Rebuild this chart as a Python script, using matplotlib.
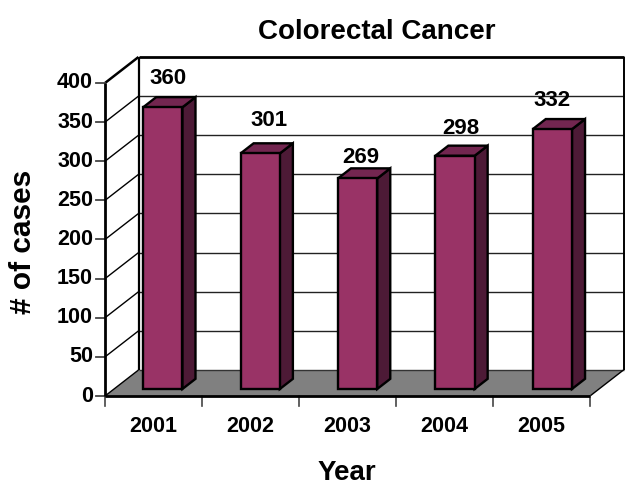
"""Colorectal cancer cases per year, as a pseudo-3D column chart."""

import matplotlib

matplotlib.use("Agg")
import matplotlib.pyplot as plt
from matplotlib.patches import Polygon

plt.rcParams["font.family"] = ["Liberation Sans", "DejaVu Sans"]

years = ["2001", "2002", "2003", "2004", "2005"]
cases = [360, 301, 269, 298, 332]
y_ticks = [0, 50, 100, 150, 200, 250, 300, 350, 400]
# pixel nudges for the value labels, measured from the top of each column
label_nudge = [(5, 29), (9, 33), (3, 21), (6, 27), (0, 29)]

FRONT = "#993366"
TOP = "#732650"
SIDE = "#4d1a36"
FLOOR = "#808080"

W, H = 630, 498
X0, X1 = 105, 590
Y0, Y1 = 396, 83
CAT_PX = (X1 - X0) / len(years)
VAL_PX = (Y0 - Y1) / y_ticks[-1]

# depth axis: full depth shifts a point this far in data units
DEPTH_X = 33.5 / CAT_PX
DEPTH_Y = 26 / VAL_PX
BAR_WIDTH = 0.405
BAR_PITCH = 1.004
BAR_NEAR = 0.27
BAR_FAR = 0.66


def project(x, v, d=0.0):
    """Map category position, value and depth to axes data coordinates."""
    return x + d * DEPTH_X, v + d * DEPTH_Y


def face(ax, points, color, lw=1.7, z=2):
    ax.add_patch(Polygon([project(*p) for p in points], closed=True, facecolor=color,
                         edgecolor="black", linewidth=lw, joinstyle="miter",
                         clip_on=False, zorder=z))


def line(ax, a, b, lw=1.0, color="black", z=1):
    xa, ya = project(*a)
    xb, yb = project(*b)
    ax.plot([xa, xb], [ya, yb], color=color, linewidth=lw, clip_on=False,
            solid_capstyle="butt", zorder=z)


fig = plt.figure(figsize=(W / 100, H / 100), dpi=100, facecolor="white")
ax = fig.add_axes([X0 / W, 1 - Y0 / H, (X1 - X0) / W, (Y0 - Y1) / H])
ax.set_xlim(0, len(years))
ax.set_ylim(0, y_ticks[-1])
ax.axis("off")

n = len(years)
top = y_ticks[-1]

# floor, then gridlines across the back and left walls
face(ax, [(0, 0, 0), (n, 0, 0), (n, 0, 1), (0, 0, 1)], FLOOR, lw=0, z=1)
for v in y_ticks[1:-1]:
    line(ax, (0, v, 1), (n, v, 1), lw=1.0, color="#222222")
    line(ax, (0, v, 0), (0, v, 1), lw=1.0)
line(ax, (0, 0, 1), (n, 0, 1), lw=1.0, color="#333333")

# wall outline
line(ax, (0, 0, 1), (0, top, 1), lw=1.6)
line(ax, (0, top, 1), (n, top, 1), lw=2.0)
line(ax, (n, 0, 1), (n, top, 1), lw=1.4)
line(ax, (0, top, 0), (0, top, 1), lw=1.8)
line(ax, (n, 0, 0), (n, 0, 1), lw=1.0)
line(ax, (0, 0, 0), (0, 0, 1), lw=1.0)

# columns
for i, (value, nudge) in enumerate(zip(cases, label_nudge)):
    left = i * BAR_PITCH + 0.3
    right = left + BAR_WIDTH
    face(ax, [(right, 0, BAR_NEAR), (right, 0, BAR_FAR), (right, value, BAR_FAR),
              (right, value, BAR_NEAR)], SIDE)
    face(ax, [(left, value, BAR_NEAR), (right, value, BAR_NEAR), (right, value, BAR_FAR),
              (left, value, BAR_FAR)], TOP)
    face(ax, [(left, 0, BAR_NEAR), (right, 0, BAR_NEAR), (right, value, BAR_NEAR),
              (left, value, BAR_NEAR)], FRONT)
    ax.annotate(str(value), project((left + right) / 2, value, BAR_NEAR), xytext=nudge,
                textcoords="offset pixels", ha="center", va="center", fontsize=16,
                fontweight="bold", color="black", zorder=5, annotation_clip=False)

# front axes and ticks
line(ax, (0, 0, 0), (0, top, 0), lw=2.0, z=4)
line(ax, (0, 0, 0), (n, 0, 0), lw=2.0, z=4)
for v in y_ticks:
    ax.plot([-9 / CAT_PX, 0], [v, v], color="#444444", linewidth=1.3, clip_on=False, zorder=3)
    ax.text(-12 / CAT_PX, v, str(v), ha="right", va="center", fontsize=15.5, fontweight="bold")
for i in range(n + 1):
    ax.plot([i, i], [0, -10 / VAL_PX], color="#444444", linewidth=1.2, clip_on=False, zorder=3)
for i, year in enumerate(years):
    ax.text(i + 0.5, -30 / VAL_PX, year, ha="center", va="center", fontsize=15.5, fontweight="bold")

fig.text(377 / W, 1 - 32 / H, "Colorectal Cancer", ha="center", va="center",
         fontsize=20, fontweight="bold")
fig.text(347 / W, 1 - 473 / H, "Year", ha="center", va="center", fontsize=20, fontweight="bold")
fig.text(23 / W, 1 - 242 / H, "# of cases", ha="center", va="center", rotation=90,
         fontsize=21.5, fontweight="bold")

fig.savefig("out.png", dpi=100, facecolor="white")
